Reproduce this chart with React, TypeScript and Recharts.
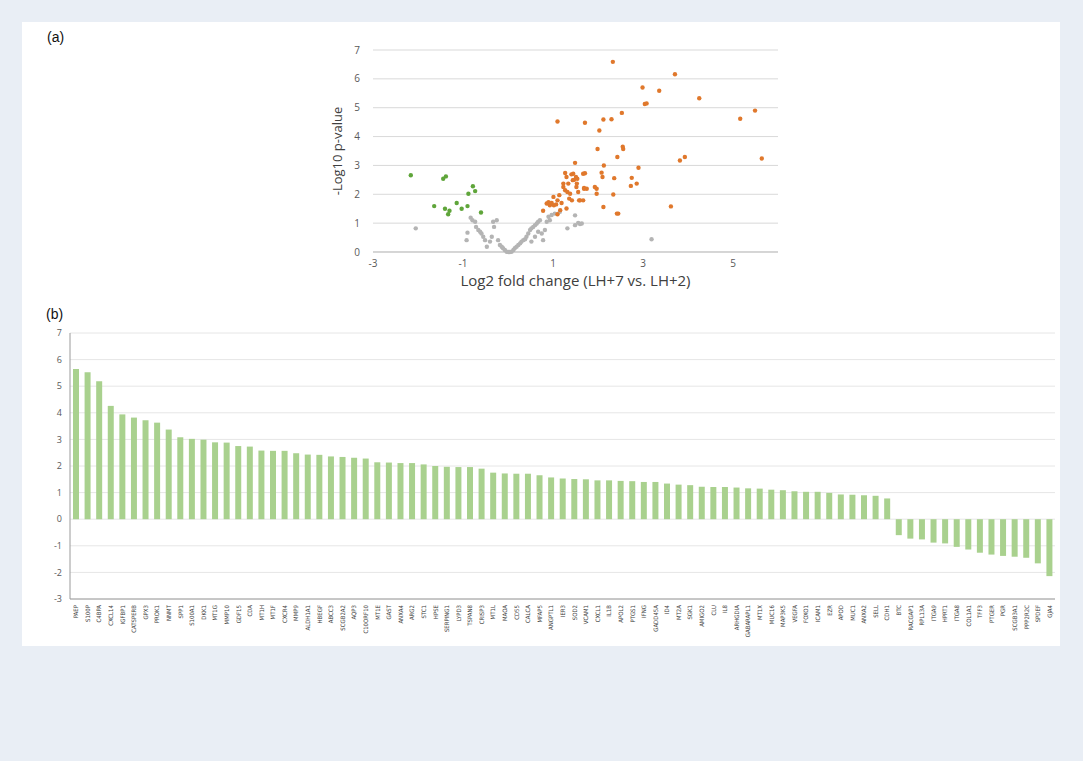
import { ScatterChart, Scatter, XAxis, YAxis, CartesianGrid, BarChart, Bar, Label } from 'recharts'

// (a) volcano plot points, [log2 fold change, -log10 p]
const upPoints: [number, number][] = [
  [2.33, 6.59], [3.71, 6.16], [2.99, 5.7], [3.36, 5.59], [3.04, 5.13], [3.08, 5.15], [4.25, 5.33],
  [5.49, 4.9], [5.16, 4.62], [2.53, 4.82], [2.3, 4.6], [2.12, 4.59], [1.71, 4.48], [1.1, 4.52],
  [2.03, 4.21], [1.99, 3.57], [2.55, 3.65], [2.56, 3.57], [2.43, 3.29], [3.82, 3.17], [3.93, 3.29],
  [5.64, 3.24], [2.9, 2.92], [2.13, 3.0], [1.49, 3.09], [1.71, 2.73], [2.08, 2.75], [2.1, 2.6],
  [2.36, 2.56], [2.75, 2.57], [2.86, 2.37], [2.73, 2.29], [2.34, 1.99], [2.12, 1.56], [2.45, 1.33],
  [2.42, 1.33], [3.62, 1.58], [1.97, 2.19], [1.93, 2.25], [1.97, 2.02], [1.75, 2.19], [1.69, 2.22],
  [1.6, 1.79], [1.67, 1.79], [1.42, 1.79], [1.3, 1.51], [1.45, 2.71], [1.47, 2.5], [1.51, 2.6],
  [1.53, 2.37], [1.38, 2.02], [1.56, 2.08], [1.23, 2.37], [1.27, 2.14], [0.78, 1.43], [0.86, 1.68],
  [0.9, 1.73], [0.93, 1.62], [0.97, 1.7], [1.01, 1.91], [1.02, 1.62], [1.07, 1.65], [1.1, 1.79],
  [1.14, 1.97], [1.16, 1.45], [1.19, 1.7], [1.23, 2.25], [1.27, 2.74], [1.3, 2.6], [1.32, 2.08],
  [1.34, 2.37], [1.36, 1.85], [1.41, 2.69], [1.44, 2.49], [1.52, 2.25], [1.54, 2.54], [1.58, 1.79],
  [1.67, 2.71], [1.69, 2.19], [1.1, 1.31],
]
const downPoints: [number, number][] = [
  [-2.16, 2.66], [-1.64, 1.59], [-1.44, 2.54], [-1.38, 2.62], [-1.4, 1.5], [-1.3, 1.43], [-1.33, 1.31],
  [-1.14, 1.7], [-1.03, 1.5], [-0.9, 1.59], [-0.88, 2.02], [-0.78, 2.28], [-0.73, 2.11], [-0.6, 1.37],
]
const nsPoints: [number, number][] = [
  [-2.05, 0.82], [-0.92, 0.41], [-0.9, 0.67], [-0.83, 1.19], [-0.79, 1.1], [-0.73, 1.05], [-0.71, 0.87],
  [-0.66, 0.76], [-0.62, 0.7], [-0.59, 0.64], [-0.55, 0.53], [-0.51, 0.41], [-0.47, 0.18], [-0.4, 0.36],
  [-0.36, 0.53], [-0.33, 1.05], [-0.31, 0.87], [-0.25, 1.1], [-0.22, 0.41], [-0.18, 0.24], [-0.14, 0.18],
  [-0.11, 0.13], [-0.07, 0.07], [-0.03, 0.01], [0.01, 0.0], [0.04, 0.0], [0.08, 0.01], [0.12, 0.07],
  [0.15, 0.13], [0.19, 0.18], [0.23, 0.24], [0.27, 0.3], [0.3, 0.36], [0.34, 0.41], [0.38, 0.44],
  [0.41, 0.53], [0.45, 0.64], [0.49, 0.76], [0.52, 0.82], [0.56, 0.87], [0.6, 0.93], [0.64, 0.99],
  [0.67, 1.05], [0.71, 1.1], [0.52, 0.36], [0.6, 0.53], [0.67, 0.7], [0.75, 0.64], [0.78, 0.41],
  [0.82, 0.76], [0.86, 1.05], [0.9, 1.22], [0.93, 1.1], [0.97, 1.28], [1.04, 1.33], [1.15, 1.39],
  [1.32, 0.82], [1.49, 0.93], [1.56, 1.01], [1.6, 0.97], [1.49, 1.27], [1.64, 0.99], [3.19, 0.44],
]

// (b) per-gene log2 fold change
const genes = [
  'PAEP', 'S100P', 'C4BPA', 'CXCL14', 'IGFBP1', 'CATSPERB', 'GPX3', 'PROK1', 'NNMT', 'SPP1',
  'S100A1', 'DKK1', 'MT1G', 'MMP10', 'GDF15', 'CDA', 'MT1H', 'MT1F', 'CXCR4', 'MMP9',
  'ALDH1A1', 'HBEGF', 'ABCC3', 'SCGB2A2', 'AQP3', 'C10ORF10', 'MT1E', 'GAST', 'ANXA4', 'ARG2',
  'STC1', 'HPSE', 'SERPING1', 'LYPD3', 'TSPAN8', 'CRISP3', 'MT1L', 'MAOA', 'CD55', 'CALCA',
  'MFAP5', 'ANGPTL1', 'IER3', 'SOD2', 'VCAM1', 'CXCL1', 'IL1B', 'APOL2', 'PTGS1', 'IFNG',
  'GADD45A', 'ID4', 'MT2A', 'SGK1', 'AMIGO2', 'CLU', 'IL8', 'ARHGDIA', 'GABARAPL1', 'MT1X',
  'MUC16', 'MAP3K5', 'VEGFA', 'FOXO1', 'ICAM1', 'EZR', 'APOD', 'MUC1', 'ANXA2', 'SELL',
  'CDH1', 'BTC', 'RACGAP1', 'RPL13A', 'ITGA9', 'HPRT1', 'ITGA8', 'COL1A1', 'TFF3', 'PTGER',
  'PGR', 'SCGB3A1', 'PPP2R2C', 'SPDEF', 'GJA4',
]
const log2fc = [
  5.65, 5.52, 5.19, 4.26, 3.94, 3.82, 3.72, 3.63, 3.37, 3.08,
  3.02, 2.99, 2.89, 2.88, 2.75, 2.73, 2.58, 2.57, 2.57, 2.48,
  2.43, 2.42, 2.36, 2.34, 2.31, 2.28, 2.14, 2.13, 2.11, 2.11,
  2.06, 2.0, 1.97, 1.96, 1.96, 1.9, 1.75, 1.72, 1.71, 1.71,
  1.65, 1.57, 1.53, 1.51, 1.5, 1.46, 1.46, 1.44, 1.43, 1.4,
  1.4, 1.34, 1.3, 1.28, 1.22, 1.21, 1.21, 1.19, 1.16, 1.15,
  1.11, 1.09, 1.05, 1.03, 1.03, 0.99, 0.93, 0.92, 0.9, 0.88,
  0.78, -0.6, -0.73, -0.76, -0.88, -0.91, -1.04, -1.14, -1.26, -1.33,
  -1.38, -1.41, -1.45, -1.66, -2.14,
]

const volcanoXTicks = [-3, -1, 1, 3, 5]
const volcanoYTicks = [0, 1, 2, 3, 4, 5, 6, 7]
const barYTicks = [-3, -2, -1, 0, 1, 2, 3, 4, 5, 6, 7]

const toXY = (pts: [number, number][]) => pts.map(([x, y]) => ({ x, y }))
const barRows = genes.map((gene, i) => ({ gene, value: log2fc[i] }))

const FONT = '"Open Sans", "Noto Sans", sans-serif'
const tickStyle = { fontSize: 10, fill: '#595959', fontFamily: FONT }

// small Excel-like markers
const dot = (color: string) => (props: any) => <circle cx={props.cx} cy={props.cy} r={2.2} fill={color} />

function GeneTick({ x, y, payload }: any) {
  return (
    <text
      x={x}
      y={y}
      transform={`rotate(-90 ${x} ${y})`}
      textAnchor="end"
      dominantBaseline="central"
      fontSize={6}
      fill="#404040"
      fontFamily='"DejaVu Sans Condensed", "Liberation Sans Narrow", sans-serif'
    >
      {payload.value}
    </text>
  )
}

export default function App() {
  return (
    <div style={{ position: 'absolute', left: 0, top: 0, width: 1083, height: 761, background: '#e9eef5', overflow: 'hidden' }}>
      <div style={{ position: 'absolute', left: 22, top: 22, width: 1038, height: 624, background: '#ffffff' }} />
      <div style={{ position: 'absolute', left: 47, top: 29, fontSize: 14, fontFamily: '"Liberation Sans", Arial, sans-serif', color: '#111' }}>(a)</div>
      <div style={{ position: 'absolute', left: 46, top: 306, fontSize: 14, fontFamily: '"Liberation Sans", Arial, sans-serif', color: '#111' }}>(b)</div>

      <div style={{ position: 'absolute', left: 300, top: 40 }}>
        <ScatterChart width={500} height={260} margin={{ top: 10, right: 22, bottom: 18, left: 33 }}>
          <CartesianGrid vertical={false} stroke="#d9d9d9" />
          <XAxis
            type="number"
            dataKey="x"
            domain={[-3, 6]}
            ticks={volcanoXTicks}
            tick={tickStyle}
            tickLine={false}
            axisLine={{ stroke: '#bfbfbf' }}
            height={30}
          >
            <Label value="Log2 fold change (LH+7 vs. LH+2)" position="bottom" offset={-7} style={{ fontSize: 15, fill: '#404040', fontFamily: FONT }} />
          </XAxis>
          <YAxis
            type="number"
            dataKey="y"
            domain={[0, 7]}
            ticks={volcanoYTicks}
            tick={tickStyle}
            tickLine={false}
            axisLine={false}
            tickMargin={7}
            width={40}
          >
            <Label value="-Log10 p-value" angle={-90} position="insideLeft" offset={4} style={{ fontSize: 13, fill: '#404040', fontFamily: FONT, textAnchor: 'middle' }} />
          </YAxis>
          <Scatter data={toXY(nsPoints)} fill="#b4b4b4" shape={dot('#b4b4b4')} isAnimationActive={false} />
          <Scatter data={toXY(downPoints)} fill="#5fa53a" shape={dot('#5fa53a')} isAnimationActive={false} />
          <Scatter data={toXY(upPoints)} fill="#e0782c" shape={dot('#e0782c')} isAnimationActive={false} />
        </ScatterChart>
      </div>

      <div style={{ position: 'absolute', left: 30, top: 300 }}>
        <BarChart width={1040} height={350} data={barRows} margin={{ top: 33, right: 15, bottom: 6, left: 10 }}>
          <CartesianGrid vertical={false} stroke="#e6e6e6" />
          <XAxis
            dataKey="gene"
            interval={0}
            tick={<GeneTick />}
            tickLine={false}
            tickSize={4}
            axisLine={{ stroke: '#9a9a9a' }}
            height={45}
          />
          <XAxis xAxisId="top" dataKey="gene" orientation="top" tick={false} tickLine={false} axisLine={{ stroke: '#9a9a9a' }} height={0}>
            <Label value="Log2 fold change (LH+7 vs. LH+2)" position="top" offset={4} style={{ fontSize: 13, fill: '#404040', fontFamily: FONT }} />
          </XAxis>
          <YAxis
            domain={[-3, 7]}
            ticks={barYTicks}
            tick={{ fontSize: 9, fill: '#595959', fontFamily: FONT }}
            tickLine={false}
            axisLine={{ stroke: '#9a9a9a' }}
            width={30}
          />
          <YAxis yAxisId="right" orientation="right" domain={[-3, 7]} tick={false} tickLine={false} axisLine={{ stroke: '#9a9a9a' }} width={0} />
          <Bar dataKey="value" fill="#a9d18e" barSize={6} isAnimationActive={false} />
        </BarChart>
      </div>
    </div>
  )
}
